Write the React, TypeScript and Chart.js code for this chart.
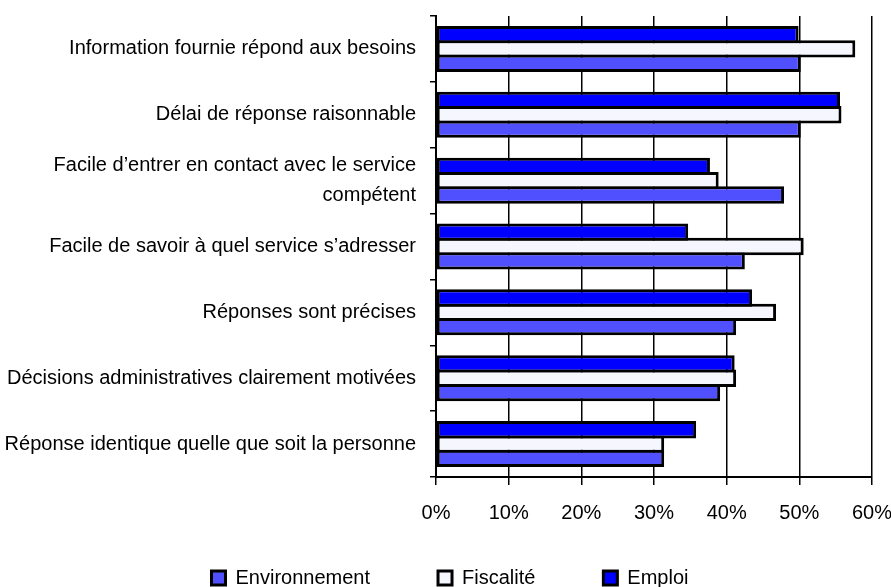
import React, { useEffect, useRef } from 'react';
import { Chart, registerables } from 'chart.js';

Chart.register(...registerables);

const categories: (string | string[])[] = [
  'Information fournie répond aux besoins',
  'Délai de réponse raisonnable',
  ['Facile d’entrer en contact avec le service', 'compétent'],
  'Facile de savoir à quel service s’adresser',
  'Réponses sont précises',
  'Décisions administratives clairement motivées',
  'Réponse identique quelle que soit la personne',
];

const emploi = [49.9, 55.6, 37.7, 34.7, 43.5, 41.1, 35.8];
const fiscalite = [57.7, 55.8, 38.9, 50.6, 46.8, 41.3, 31.4];
const environnement = [50.2, 50.2, 47.9, 42.5, 41.3, 39.1, 31.4];

const xMin = 0;
const xMax = 60;
const xStep = 10;

export default function App() {
  const ref = useRef<HTMLCanvasElement>(null);

  useEffect(() => {
    Chart.defaults.font.family = '"Liberation Sans", Arial, Helvetica, sans-serif';
    const chart = new Chart(ref.current as HTMLCanvasElement, {
      type: 'bar',
      data: {
        labels: categories,
        datasets: [
          { label: 'Emploi', data: emploi, backgroundColor: '#0000FF', borderColor: '#000', borderWidth: 3, borderSkipped: false },
          { label: 'Fiscalité', data: fiscalite, backgroundColor: '#F6F6FF', borderColor: '#000', borderWidth: 3, borderSkipped: false },
          { label: 'Environnement', data: environnement, backgroundColor: '#5050FF', borderColor: '#000', borderWidth: 3, borderSkipped: false },
        ],
      },
      options: {
        indexAxis: 'y',
        animation: false,
        responsive: false,
        datasets: { bar: { categoryPercentage: 0.653, barPercentage: 1.209 } },
        layout: { padding: { top: 16, right: 19, bottom: -11, left: 28 } },
        scales: {
          x: {
            min: xMin,
            max: xMax,
            ticks: {
              stepSize: xStep,
              callback: (v: any) => v + '%',
              color: '#000',
              padding: 16,
              font: { size: 20 },
            },
            grid: { color: '#000', lineWidth: 1.5, tickLength: 8, drawTicks: true },
            border: { display: true, color: '#000', width: 2 },
            afterFit: (s: any) => {
              s.height = 23;
              s.paddingLeft = 0;
              s.paddingRight = 0;
              s._computeLabelArea = () => undefined;
            },
          },
          y: {
            ticks: { color: '#000', padding: 14, font: { size: 20, lineHeight: 1.5 } },
            grid: { drawOnChartArea: false, color: '#000', lineWidth: 1.5, tickLength: 6, offset: true },
            border: { display: true, color: '#000', width: 2 },
            afterFit: (s: any) => {
              s.width = 408;
              s.paddingTop = 0;
              s.paddingBottom = 0;
              s._computeLabelArea = () => undefined;
            },
          },
        },
        plugins: {
          legend: {
            position: 'bottom',
            reverse: true,
            labels: { boxWidth: 14, boxHeight: 14, padding: 68, color: '#000', font: { size: 20 } },
          },
          tooltip: { enabled: false },
        },
      },
    } as any);
    return () => chart.destroy();
  }, []);

  return (
    <div style={{ position: 'absolute', left: 0, top: 0, width: 891, height: 587 }}>
      <canvas ref={ref} width={891} height={587} />
    </div>
  );
}
